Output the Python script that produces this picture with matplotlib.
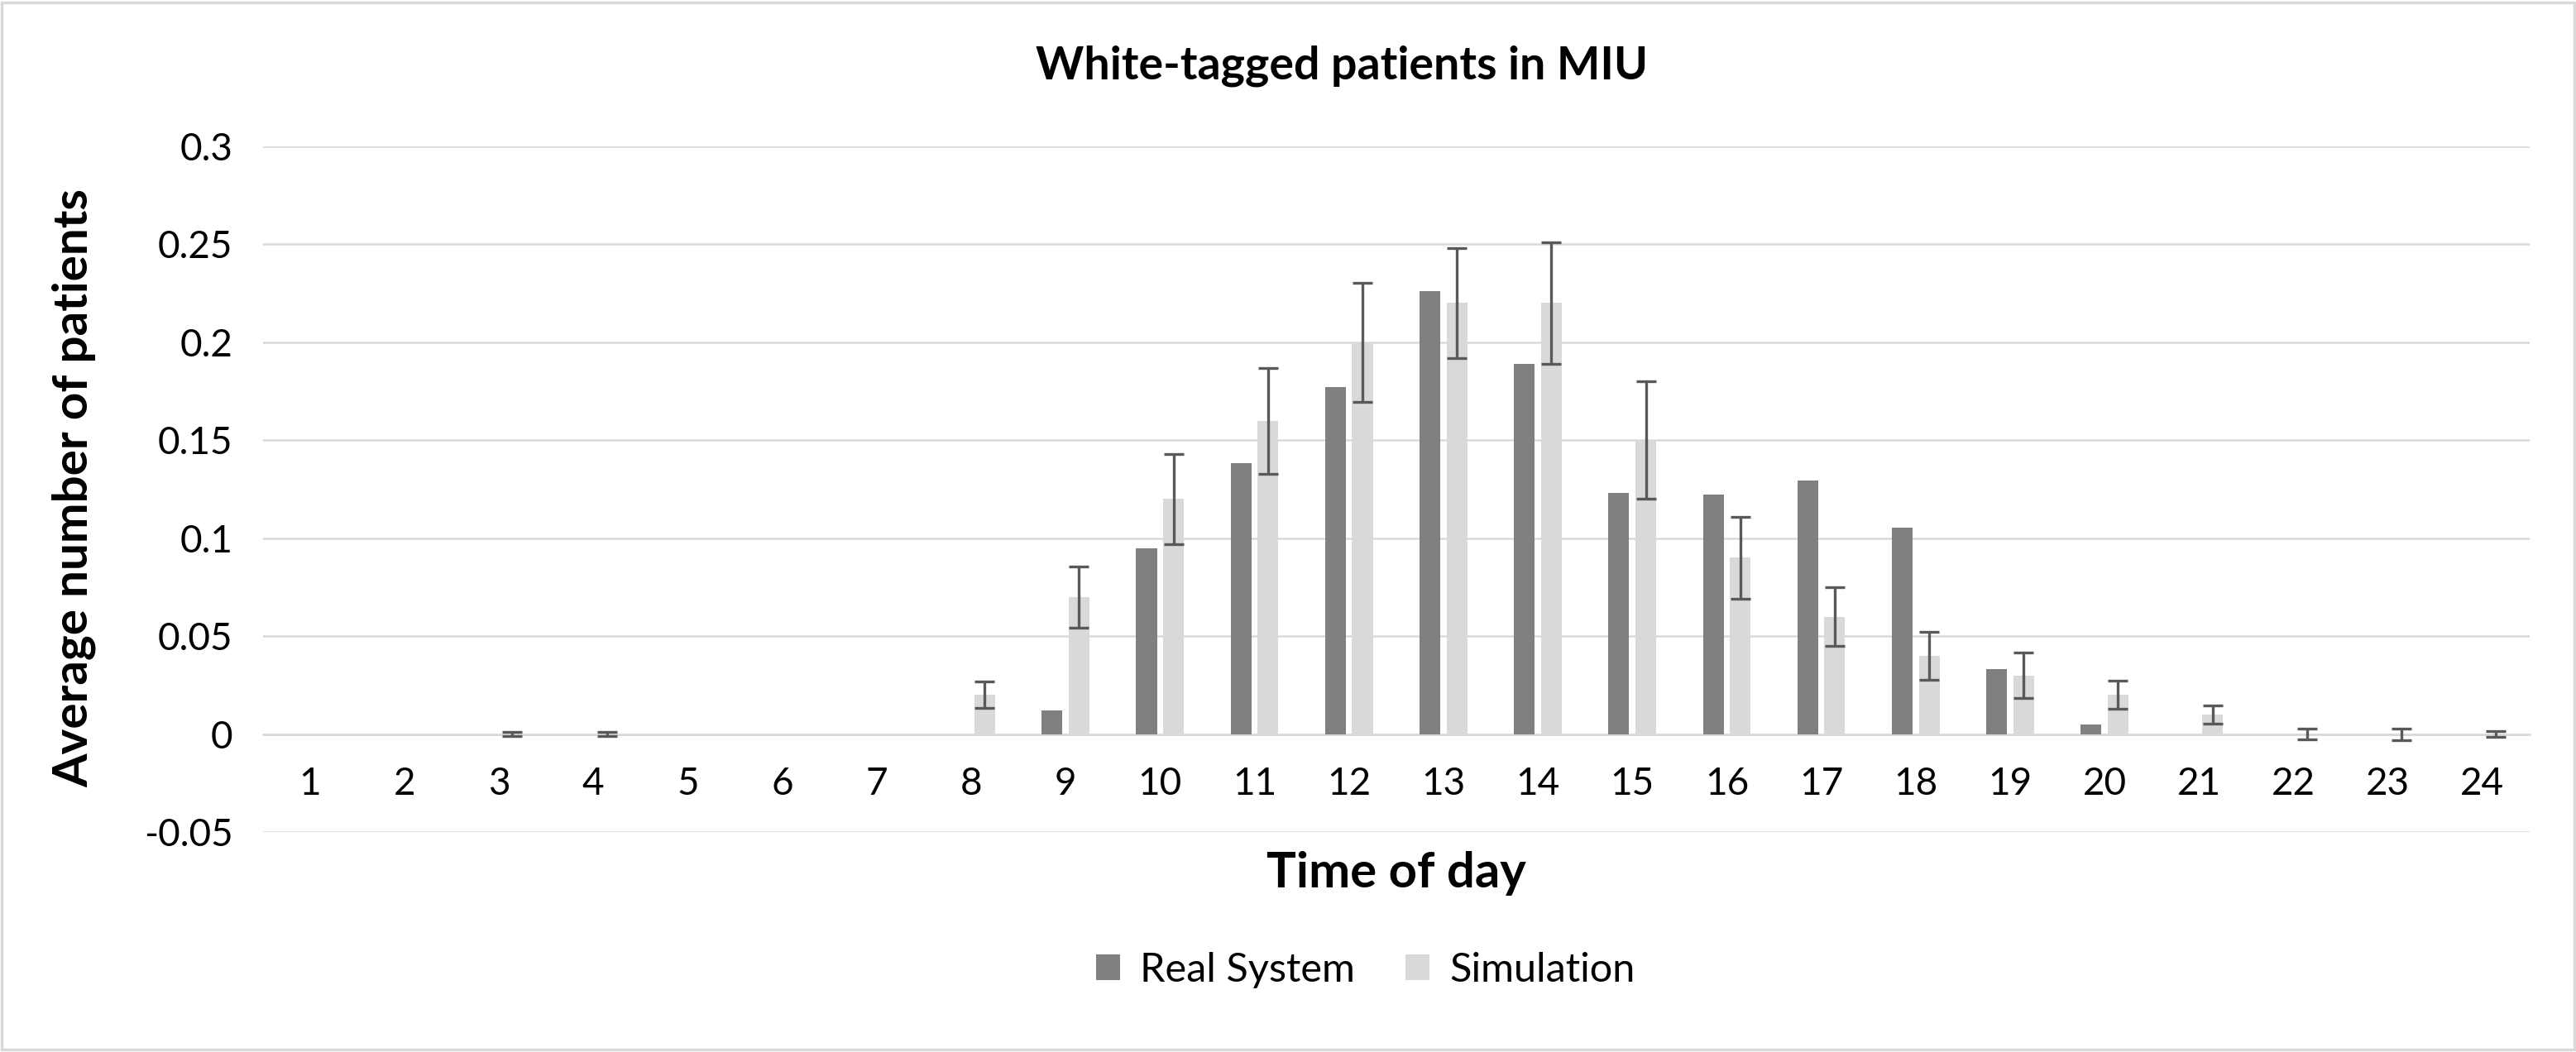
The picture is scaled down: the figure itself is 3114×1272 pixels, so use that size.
import matplotlib
matplotlib.use("Agg")
import matplotlib.pyplot as plt
from matplotlib.ticker import FuncFormatter, MultipleLocator
from matplotlib.patches import Rectangle
import numpy as np

plt.rcParams['font.family'] = ['Lato', 'DejaVu Sans']

hours = list(range(1, 25))
real_system = [0, 0, 0, 0, 0, 0, 0, 0, 0.0123, 0.0947, 0.1384, 0.1773,
               0.2262, 0.1888, 0.1229, 0.1222, 0.1295, 0.1053, 0.0332, 0.0049,
               0, 0, 0, 0]
simulation = [0, 0, 0, 0, 0, 0, 0, 0.02, 0.07, 0.12, 0.16, 0.20,
              0.22, 0.22, 0.15, 0.09, 0.06, 0.04, 0.03, 0.02,
              0.01, 0, 0, 0]
sim_err = [0, 0, 0.001, 0.001, 0, 0, 0, 0.0067, 0.0155, 0.023, 0.027, 0.0304,
           0.028, 0.031, 0.03, 0.021, 0.015, 0.0122, 0.0116, 0.0072,
           0.0047, 0.0028, 0.003, 0.0015]

title = "White-tagged patients in MIU"
xlabel = "Time of day"
ylabel = "Average number of patients"
series_names = ["Real System", "Simulation"]

fig = plt.figure(figsize=(15.57, 6.36), dpi=200)
ax = fig.add_axes([0.102, 0.209, 0.880, 0.652])

x = np.array(hours)
sim = np.array(simulation)
err = np.array(sim_err)
w = 0.22
off = 0.143
b1 = ax.bar(x - off, real_system, width=w, color='#808080', label=series_names[0], zorder=3)
b2 = ax.bar(x + off, sim, width=w, color='#D9D9D9', label=series_names[1], zorder=3)
m = err > 0
ax.errorbar((x + off)[m], sim[m], yerr=err[m], fmt='none', ecolor='#595959',
            elinewidth=1.2, capsize=4.2, capthick=1.2, zorder=4)

ax.set_xlim(0.5, 24.5)
ax.set_ylim(-0.05, 0.3)
ax.yaxis.set_major_locator(MultipleLocator(0.05))
ax.yaxis.set_major_formatter(FuncFormatter(lambda v, p: '%g' % round(v, 4)))
ax.set_xticks(x)
ax.set_xticklabels([str(h) for h in hours])
ax.grid(axis='y', color='#D9D9D9', linewidth=0.9, zorder=0)
ax.set_axisbelow(True)
for s in ['top', 'right', 'left']:
    ax.spines[s].set_visible(False)
ax.spines['bottom'].set_position(('data', 0))
ax.spines['bottom'].set_color('#D9D9D9')
ax.spines['bottom'].set_linewidth(0.9)
ax.tick_params(axis='both', length=0, labelsize=16.5, colors='#000000')
ax.tick_params(axis='x', pad=14)
ax.tick_params(axis='y', pad=13)

fig.text(0.521, 0.9375, title, ha='center', va='center', fontsize=20, fontweight='bold')
fig.text(0.542, 0.170, xlabel, ha='center', va='center', fontsize=21.5, fontweight='bold')
fig.text(0.0287, 0.536, ylabel, ha='center', va='center', fontsize=21, fontweight='bold', rotation=90)

fig.legend(handles=[b1, b2], labels=series_names, loc='center', bbox_to_anchor=(0.530, 0.078),
           ncol=2, frameon=False, fontsize=17.5, handlelength=0.6, handleheight=0.6,
           columnspacing=1.25, handletextpad=0.5)

fig.patches.append(Rectangle((0.0008, 0.002), 0.9984, 0.996, transform=fig.transFigure,
                             fill=False, edgecolor='#D9D9D9', linewidth=1.2))

fig.savefig('out.png', dpi=200)
